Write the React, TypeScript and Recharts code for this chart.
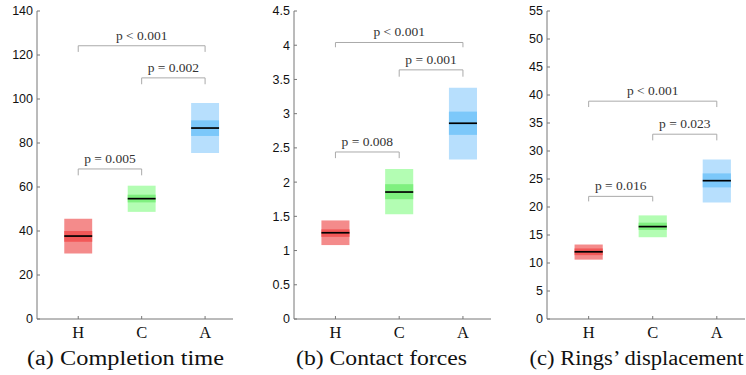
import { ComposedChart, ReferenceArea, ReferenceLine, Scatter, XAxis, YAxis } from "recharts";

const categories = ["H", "C", "A"];
const captions = ["(a) Completion time", "(b) Contact forces", "(c) Rings\u2019 displacement"];

// completion time
const timeLow = [29.8, 48.7, 75.4];
const timeHigh = [45.6, 60.6, 98.2];
const timeInnerLow = [35.1, 53.0, 83.2];
const timeInnerHigh = [40.0, 56.5, 90.3];
const timeMean = [37.7, 54.7, 86.8];
const timeTicks = [0, 20, 40, 60, 80, 100, 120, 140];

// contact forces
const forceLow = [1.08, 1.53, 2.33];
const forceHigh = [1.44, 2.19, 3.38];
const forceInnerLow = [1.2, 1.75, 2.69];
const forceInnerHigh = [1.31, 1.97, 3.03];
const forceMean = [1.26, 1.855, 2.86];
const forceTicks = [0, 0.5, 1, 1.5, 2, 2.5, 3, 3.5, 4, 4.5];

// rings displacement
const ringLow = [10.6, 14.6, 20.8];
const ringHigh = [13.3, 18.5, 28.5];
const ringInnerLow = [11.4, 15.9, 23.5];
const ringInnerHigh = [12.6, 17.2, 26.0];
const ringMean = [12.0, 16.5, 24.7];
const ringTicks = [0, 5, 10, 15, 20, 25, 30, 35, 40, 45, 50, 55];

// significance brackets: [from, to], bar height, leg end, label
const timeBrackets = [
  { from: 0, to: 1, y: 68.2, leg: 65.3, label: "p = 0.005" },
  { from: 1, to: 2, y: 109.6, leg: 106.7, label: "p = 0.002" },
  { from: 0, to: 2, y: 124.2, leg: 121.4, label: "p < 0.001" },
];
const forceBrackets = [
  { from: 0, to: 1, y: 2.44, leg: 2.35, label: "p = 0.008" },
  { from: 1, to: 2, y: 3.64, leg: 3.54, label: "p = 0.001" },
  { from: 0, to: 2, y: 4.04, leg: 3.97, label: "p < 0.001" },
];
const ringBrackets = [
  { from: 0, to: 1, y: 21.9, leg: 21.0, label: "p = 0.016" },
  { from: 1, to: 2, y: 33.0, leg: 31.9, label: "p = 0.023" },
  { from: 0, to: 2, y: 38.9, leg: 37.85, label: "p < 0.001" },
];

const lightColors = ["#F48B8B", "#B3FDB3", "#B7DFFD"];
const darkColors = ["#F25858", "#7FF07F", "#7CC8FA"];

const HALF = 0.22;
const AXIS = "#777";
const BRACKET = "#aaa";
const SERIF = "Liberation Serif";

type Bracket = { from: number; to: number; y: number; leg: number; label: string };

type PanelProps = {
  left: number;
  width: number;
  yWidth: number;
  right: number;
  max: number;
  ticks: number[];
  low: number[];
  high: number[];
  innerLow: number[];
  innerHigh: number[];
  mean: number[];
  brackets: Bracket[];
};

function Panel(p: PanelProps) {
  const data = categories.map((c, i) => ({ x: i + 1, name: c, mean: p.mean[i] }));
  return (
    <div style={{ position: "absolute", left: p.left, top: 0 }}>
      <ComposedChart width={p.width} height={345} data={data} margin={{ top: 11, right: p.right, bottom: 0, left: 0 }}>
        <XAxis
          type="number"
          dataKey="x"
          domain={[0.35, 3.44]}
          ticks={[1, 2, 3]}
          tickFormatter={(v: number) => categories[v - 1]}
          height={26}
          tickSize={-3}
          tickMargin={10}
          stroke={AXIS}
          tick={{ fill: "#111", fontSize: 16.5, fontFamily: SERIF }}
        />
        <YAxis
          type="number"
          domain={[0, p.max]}
          ticks={p.ticks}
          width={p.yWidth}
          tickSize={-3}
          tickMargin={7}
          stroke={AXIS}
          tick={{ fill: "#111", fontSize: 12.5, fontFamily: "Liberation Sans" }}
        />
        {categories.map((c, i) => (
          <ReferenceArea
            key={"l" + c}
            x1={i + 1 - HALF}
            x2={i + 1 + HALF}
            y1={p.low[i]}
            y2={p.high[i]}
            fill={lightColors[i]}
            fillOpacity={1}
            stroke="none"
          />
        ))}
        {categories.map((c, i) => (
          <ReferenceArea
            key={"d" + c}
            x1={i + 1 - HALF}
            x2={i + 1 + HALF}
            y1={p.innerLow[i]}
            y2={p.innerHigh[i]}
            fill={darkColors[i]}
            fillOpacity={1}
            stroke="none"
          />
        ))}
        {categories.map((c, i) => (
          <ReferenceLine
            key={"m" + c}
            segment={[
              { x: i + 1 - HALF, y: p.mean[i] },
              { x: i + 1 + HALF, y: p.mean[i] },
            ]}
            stroke="#000"
            strokeWidth={1.7}
          />
        ))}
        {p.brackets.map((b) => (
          <ReferenceLine
            key={"b" + b.label + b.from}
            segment={[
              { x: b.from + 1, y: b.y },
              { x: b.to + 1, y: b.y },
            ]}
            stroke={BRACKET}
            strokeWidth={1}
            label={{ value: b.label, position: "top", offset: 6, fill: "#333", fontSize: 13.5, fontFamily: SERIF }}
          />
        ))}
        {p.brackets.map((b) => (
          <ReferenceLine
            key={"lf" + b.label + b.from}
            segment={[
              { x: b.from + 1, y: b.y },
              { x: b.from + 1, y: b.leg },
            ]}
            stroke={BRACKET}
            strokeWidth={1}
          />
        ))}
        {p.brackets.map((b) => (
          <ReferenceLine
            key={"lt" + b.label + b.from}
            segment={[
              { x: b.to + 1, y: b.y },
              { x: b.to + 1, y: b.leg },
            ]}
            stroke={BRACKET}
            strokeWidth={1}
          />
        ))}
        <Scatter dataKey="mean" isAnimationActive={false} shape={() => <g />} />
      </ComposedChart>
    </div>
  );
}

const captionX = [125.5, 381.5, 636.5];
const captionLength = [197, 171, 214];

export default function App() {
  return (
    <div style={{ position: "absolute", left: 0, top: 0, width: 746, height: 375, background: "#fff", overflow: "hidden" }}>
      <Panel
        left={0}
        width={250}
        yWidth={37}
        right={17}
        max={140}
        ticks={timeTicks}
        low={timeLow}
        high={timeHigh}
        innerLow={timeInnerLow}
        innerHigh={timeInnerHigh}
        mean={timeMean}
        brackets={timeBrackets}
      />
      <Panel
        left={250}
        width={250}
        yWidth={44}
        right={9}
        max={4.5}
        ticks={forceTicks}
        low={forceLow}
        high={forceHigh}
        innerLow={forceInnerLow}
        innerHigh={forceInnerHigh}
        mean={forceMean}
        brackets={forceBrackets}
      />
      <Panel
        left={500}
        width={246}
        yWidth={47}
        right={1}
        max={55}
        ticks={ringTicks}
        low={ringLow}
        high={ringHigh}
        innerLow={ringInnerLow}
        innerHigh={ringInnerHigh}
        mean={ringMean}
        brackets={ringBrackets}
      />
      <svg width={746} height={30} style={{ position: "absolute", left: 0, top: 345 }}>
        {captions.map((c, i) => (
          <text
            key={c}
            x={captionX[i]}
            y={20}
            textAnchor="middle"
            textLength={captionLength[i]}
            lengthAdjust="spacingAndGlyphs"
            fontFamily={SERIF}
            fontSize={20}
            fill="#111"
          >
            {c}
          </text>
        ))}
      </svg>
    </div>
  );
}
